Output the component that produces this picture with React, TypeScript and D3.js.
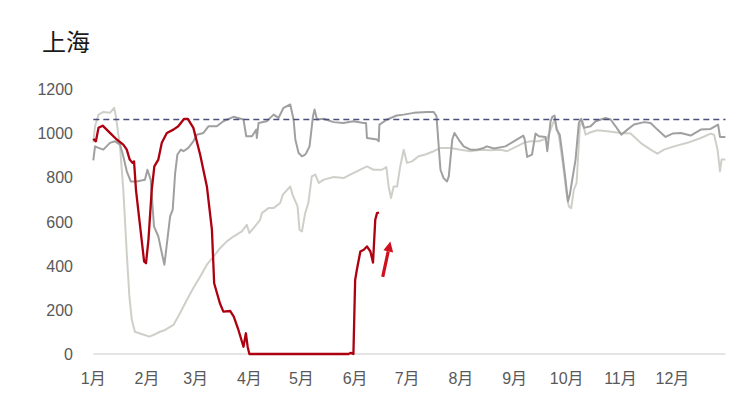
import React from "react";
import * as d3 from "d3";

// ---- Data (day of year offset from Jan 1, value) ----
const monthLabels = ["1月", "2月", "3月", "4月", "5月", "6月", "7月", "8月", "9月", "10月", "11月", "12月"];
const yTicks = [0, 200, 400, 600, 800, 1000, 1200];
const referenceLevel = 1064;

const lightSeries: [number, number][] = [
  [0, 960], [1, 1033], [3, 1086], [5.8, 1098], [9.6, 1094], [12, 1117], [13, 1079], [15.4, 942],
  [17.3, 745], [19.3, 458], [20.8, 261], [22.2, 155], [24, 101], [27.9, 91], [32.3, 79], [34.6, 86],
  [38.5, 101], [41.4, 109], [46.2, 132], [50, 185], [53.9, 245], [57.7, 299], [61.6, 351], [65.5, 405],
  [69.3, 442], [73.1, 480], [77, 511], [80.8, 533], [85.7, 556], [88.5, 586], [90, 549], [92.4, 571],
  [96.2, 609], [97.2, 639], [101, 662], [103.9, 662], [107.8, 685], [109.3, 723], [113.6, 760],
  [114.9, 723], [117.8, 670], [118.9, 564], [120.3, 556], [122.2, 639], [124, 685], [126, 806],
  [128, 814], [130, 776], [133, 791], [138.6, 803], [144.3, 798], [148.2, 814], [152, 829], [157.8, 851],
  [161.6, 836], [166.5, 836], [169, 848], [170.3, 760], [171.7, 708], [173.2, 760], [175.2, 760],
  [177, 851], [179, 927], [180.9, 867], [183.8, 874], [187.6, 897], [191.5, 905], [196.3, 920],
  [200.2, 935], [206, 935], [211.7, 927], [217.5, 920], [223.3, 927], [229, 924], [234.8, 927],
  [238.6, 920], [242.5, 935], [248.3, 958], [252.2, 965], [257, 965], [261.8, 980], [263.7, 1018],
  [266, 1064], [268.5, 988], [271, 851], [272.9, 730], [274.2, 670], [275.6, 662], [277.1, 745],
  [278.7, 776], [280.6, 1033], [282, 1056], [283.9, 995], [286.8, 1006], [290.7, 1015], [296.4, 1011],
  [304.1, 1003], [309.9, 1000], [315.6, 958], [321.4, 927], [325.3, 909], [329.1, 927], [334.9, 942],
  [342.6, 958], [350.3, 980], [356, 1000], [358, 995], [360, 927], [361.4, 829], [362.3, 882], [364.5, 882],
];

const darkSeries: [number, number][] = [
  [0, 879], [1, 942], [3, 935], [5.8, 927], [9.6, 958], [12.5, 965], [15.4, 950], [17.3, 897],
  [19.3, 829], [21.6, 783], [25, 783], [29.8, 791], [31.2, 836], [33.1, 791], [35, 579], [37.5, 533],
  [39.5, 458], [41, 405], [42.7, 518], [44.3, 624], [45.8, 655], [47.2, 821], [48.5, 905], [50.5, 927],
  [52, 920], [54.8, 935], [57.7, 965], [59.7, 995], [63.5, 1003], [66.4, 1033], [71.2, 1033],
  [75, 1056], [80.8, 1076], [86.6, 1064], [88.2, 988], [91.5, 988], [94, 1018], [94.3, 980],
  [95.3, 1048], [100, 1056], [104, 1086], [106.8, 1071], [109.7, 1117], [113.6, 1132], [115.5, 1064],
  [116.5, 973], [118.4, 912], [120.3, 897], [122.2, 905], [122.8, 912], [124.7, 942], [126.7, 1079],
  [127.6, 1109], [129, 1064], [132.8, 1067], [138.6, 1052], [144.3, 1048], [150, 1056], [156, 1048],
  [157.3, 1048], [157.8, 980], [163.6, 973], [164.6, 965], [165, 1041], [169.4, 1064], [175, 1082],
  [179, 1086], [184.8, 1094], [192.5, 1098], [196.3, 1098], [197.9, 1079], [199.2, 942], [200.2, 836],
  [202, 798], [204, 783], [205, 806], [207, 973], [208.3, 1003], [210.7, 973], [213.6, 942],
  [217.5, 927], [221.4, 927], [225.2, 935], [227, 942], [231, 932], [237.7, 942], [242.5, 965],
  [248, 991], [248.8, 973], [250.2, 894], [253, 905], [255, 1000], [257, 988], [260.8, 985],
  [261.8, 920], [263.7, 1056], [264.7, 1076], [266, 1082], [267.2, 1018], [269, 995], [270.4, 912],
  [272.3, 791], [273.7, 692], [274.8, 723], [276.2, 791], [278.1, 882], [280, 1048], [281.4, 1067],
  [283, 1026], [286.8, 1033], [289.7, 1056], [295.4, 1071], [298.3, 1064], [301.2, 1033],
  [304.5, 995], [308, 1018], [311.8, 1041], [317.6, 1052], [321.4, 1048], [325.3, 1018], [330, 985],
  [334, 1000], [338.8, 1003], [344.5, 991], [350.3, 1018], [356, 1021], [360.3, 1041], [361.4, 985],
  [364.5, 985],
];

const redSeries: [number, number][] = [
  [0, 976], [1.5, 965], [3, 1026], [5.4, 1036], [9.6, 1003], [13.5, 973], [17.3, 950], [19.3, 927],
  [21, 882], [22.7, 867], [23.5, 874], [24.6, 745], [27, 579], [29.3, 420], [30.4, 412], [31.8, 518],
  [33.7, 745], [35.2, 851], [37.5, 882], [39.5, 958], [42.4, 1003], [46.2, 1018], [49, 1033],
  [52.4, 1067], [54.5, 1067], [57.7, 1026], [61.6, 905], [65.5, 760], [68.4, 564], [69.7, 321],
  [73, 230], [75, 192], [79, 195], [81, 170], [83.7, 109], [86.6, 33], [88, 94], [89, 33], [90, 0],
  [100, 0], [120, 0], [140, 0], [147.2, 0], [148.5, 5], [150, 0], [151, 336], [152, 382], [154, 465],
  [156, 473], [157.8, 488], [159.8, 465], [161.3, 415], [162.6, 609], [163.6, 639], [164.8, 642],
];

const W = 744;
const H = 417;
const x0 = 93.3;
const x1 = 724.5;
const yTop = 89.5;
const yBottom = 354;

const start = new Date(2022, 0, 1);
const end = new Date(2022, 11, 31);

export default function App() {
  const x = d3.scaleTime().domain([start, end]).range([x0, x1]);
  const y = d3.scaleLinear().domain([0, 1200]).range([yBottom, yTop]);
  const toDate = (d: number) => new Date(start.getTime() + d * 86400000);
  const line = d3
    .line<[number, number]>()
    .x((d) => x(toDate(d[0])))
    .y((d) => y(d[1]))
    .curve(d3.curveLinear);
  const months = d3.timeMonth.range(start, new Date(2022, 11, 2));

  const font = "'Liberation Sans', Arial, 'Noto Sans CJK SC', sans-serif";
  const ax1 = x(toDate(166.9));
  const ay1 = y(350);
  const ax2 = x(toDate(171.3));
  const ay2 = y(510);

  return (
    <svg width={W} height={H} style={{ position: "absolute", left: 0, top: 0, background: "#fff" }}>
      <rect width={W} height={H} fill="#fff" />
      <text x={42} y={51} fontSize={24} fill="#1a1a1a" fontFamily="'Noto Sans CJK SC', sans-serif">
        上海
      </text>
      {yTicks.map((t) => (
        <text key={t} x={73} y={y(t)} dy="0.36em" textAnchor="end" fontSize={16} fill="#595959" fontFamily={font}>
          {t}
        </text>
      ))}
      {months.map((m, i) => (
        <text key={i} x={x(m)} y={384} textAnchor="middle" fontSize={16} fill="#595959" fontFamily={font}>
          {monthLabels[i]}
        </text>
      ))}
      <line x1={x0} x2={x1 + 1} y1={y(0)} y2={y(0)} stroke="#dcdcdc" strokeWidth={1.5} />
      <path d={line(lightSeries) || ""} fill="none" stroke="#cfcfca" strokeWidth={2} strokeLinejoin="round" />
      <path d={line(darkSeries) || ""} fill="none" stroke="#a0a0a0" strokeWidth={2} strokeLinejoin="round" />
      <line
        x1={x0}
        x2={x1 + 1}
        y1={y(referenceLevel)}
        y2={y(referenceLevel)}
        stroke="#4a4f7c"
        strokeWidth={1.5}
        strokeDasharray="6,4"
      />
      <path d={line(redSeries) || ""} fill="none" stroke="#ad0010" strokeWidth={2.3} strokeLinejoin="round" />
      {(() => {
        const ang = Math.atan2(ay2 - ay1, ax2 - ax1);
        const len = 10;
        const wid = 5;
        const bx = ax2 - len * Math.cos(ang);
        const by = ay2 - len * Math.sin(ang);
        const px = -Math.sin(ang) * wid;
        const py = Math.cos(ang) * wid;
        return (
          <g>
            <line x1={ax1} y1={ay1} x2={bx} y2={by} stroke="#d0101e" strokeWidth={3.2} />
            <polygon points={`${ax2},${ay2} ${bx + px},${by + py} ${bx - px},${by - py}`} fill="#d0101e" />
          </g>
        );
      })()}
    </svg>
  );
}
